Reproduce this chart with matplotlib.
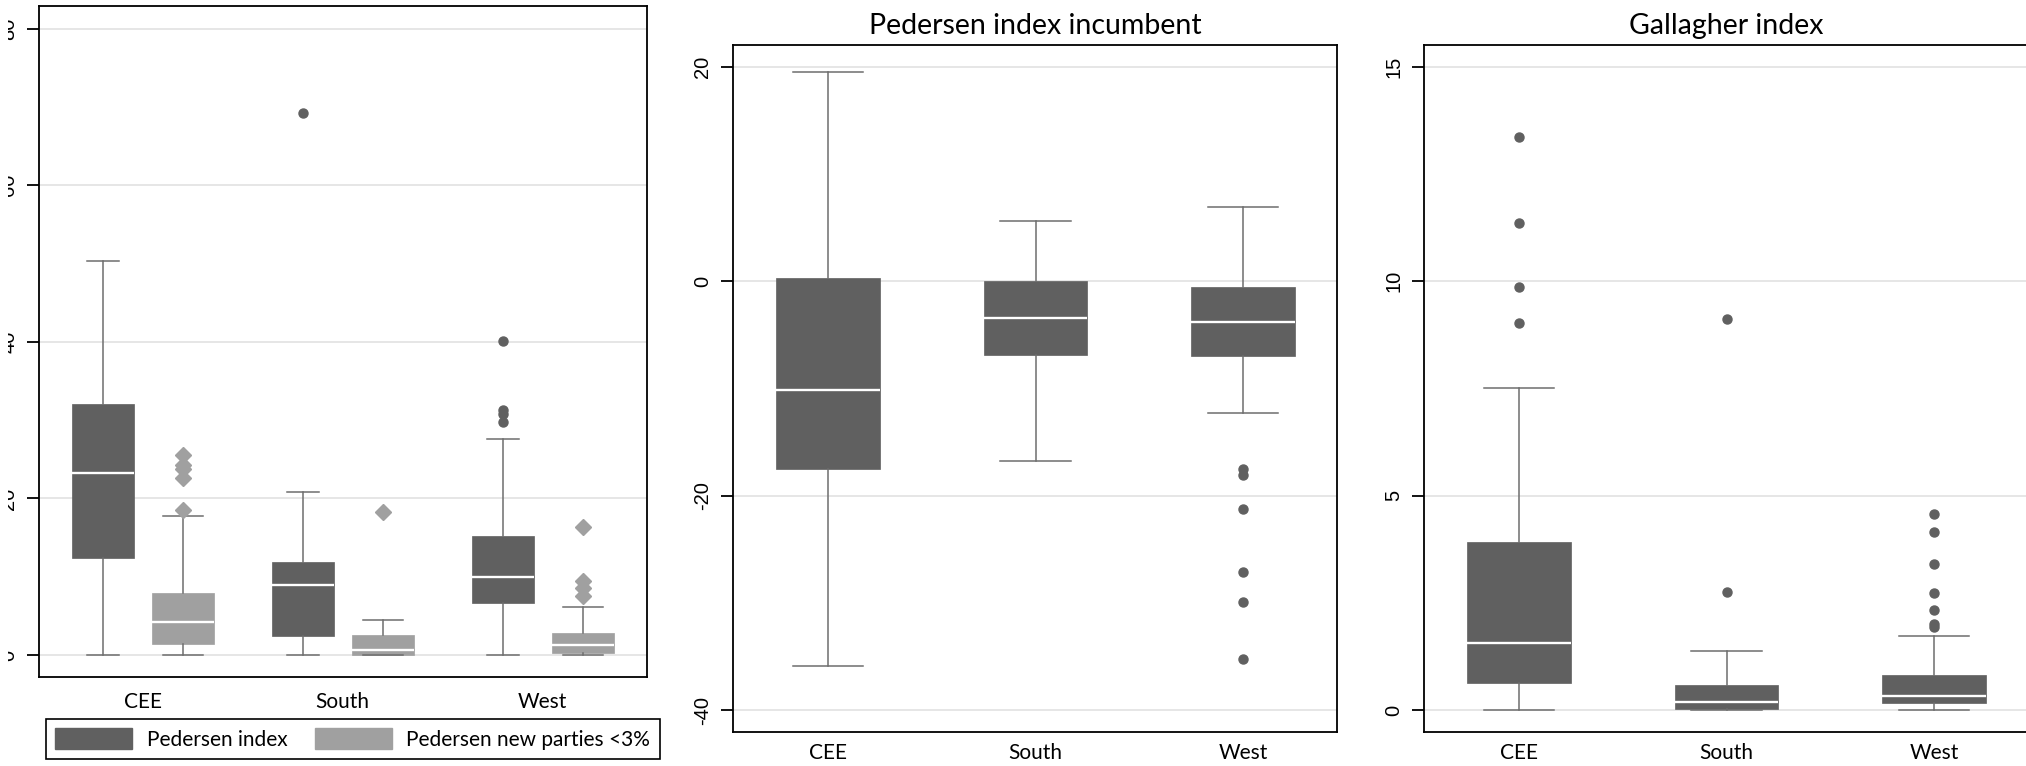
import matplotlib.pyplot as plt
from matplotlib.patches import Patch
from matplotlib.transforms import Bbox

regions = ["CEE", "South", "West"]

# left panel: Pedersen index
ped_q1 = [12.4, 2.4, 6.7]
ped_med = [23.2, 8.9, 10.0]
ped_q3 = [32.0, 11.9, 15.2]
ped_lo = [0, 0, 0]
ped_hi = [50.3, 20.8, 27.6]
ped_out = [[], [69.2], [40.1, 31.3, 30.8, 29.8]]

# left panel: Pedersen new parties <3%
new_q1 = [1.4, 0.05, 0.25]
new_med = [4.2, 0.6, 1.25]
new_q3 = [7.9, 2.5, 2.8]
new_lo = [0, 0, 0]
new_hi = [17.7, 4.5, 6.1]
new_out = [[25.5, 24.3, 23.7, 22.6, 18.5], [18.3], [16.3, 9.4, 8.6, 7.6]]

# middle panel: Pedersen index incumbent
inc_q1 = [-17.5, -6.85, -7.0]
inc_med = [-10.1, -3.4, -3.75]
inc_q3 = [0.3, 0.0, -0.5]
inc_lo = [-35.9, -16.8, -12.3]
inc_hi = [19.5, 5.65, 6.9]
inc_out = [[], [], [-17.5, -18.1, -21.2, -27.1, -29.9, -35.2]]

# right panel: Gallagher index
gal_q1 = [0.62, 0.02, 0.17]
gal_med = [1.57, 0.19, 0.32]
gal_q3 = [3.91, 0.58, 0.81]
gal_lo = [0, 0, 0]
gal_hi = [7.52, 1.37, 1.73]
gal_out = [[13.36, 11.37, 9.86, 9.03], [9.12, 2.76], [4.58, 4.15, 3.41, 2.74, 2.34, 2.0, 1.93]]

DARK = "#606060"
LIGHT = "#a0a0a0"
WHISK = "#6e6e6e"
GRID = "#e4e4e4"
TXT = "Lato"
TICKF = "Liberation Sans"

W, H = 2026, 766


def make_stats(q1, med, q3, lo, hi, out):
    return [dict(q1=a, med=b, q3=c, whislo=d, whishi=e, fliers=f)
            for a, b, c, d, e, f in zip(q1, med, q3, lo, hi, out)]


def draw_boxes(ax, stats, pos, color, width, capw, marker, msize):
    ax.bxp(stats, positions=pos, widths=width, capwidths=capw, patch_artist=True,
           boxprops=dict(facecolor=color, edgecolor=color, linewidth=0.5),
           medianprops=dict(color="white", linewidth=1.7),
           whiskerprops=dict(color=WHISK, linewidth=1.1),
           capprops=dict(color=WHISK, linewidth=1.1),
           flierprops=dict(marker=marker, markerfacecolor=color, markeredgecolor=color,
                           markersize=msize, linestyle="none"))


def style_axes(ax, ylim, yticks, xlim, label_pad):
    ax.set_ylim(*ylim)
    ax.set_xlim(*xlim)
    ax.set_yticks(yticks)
    ax.set_yticklabels([str(t) for t in yticks], rotation=90, va="center",
                       fontsize=14.5, fontfamily=TICKF)
    ax.set_xticks([1, 2, 3])
    ax.set_xticklabels(regions, fontsize=15, fontfamily=TXT)
    ax.tick_params(axis="x", length=0, pad=label_pad)
    ax.tick_params(axis="y", length=9, width=1.3, pad=6)
    ax.yaxis.grid(True, color=GRID, linewidth=1.3)
    ax.set_axisbelow(True)
    for s in ax.spines.values():
        s.set_linewidth(1.3)
        s.set_color("black")


def add_axes(x0, x1, top, bottom):
    return fig.add_axes([x0 / W, (H - bottom) / H, (x1 - x0) / W, (bottom - top) / H])


fig = plt.figure(figsize=(W / 100, H / 100), dpi=100)

# left panel
ax1 = add_axes(39, 647, 6, 677)
draw_boxes(ax1, make_stats(ped_q1, ped_med, ped_q3, ped_lo, ped_hi, ped_out),
           [0.8, 1.8, 2.8], DARK, 0.31, 0.16, "o", 6.5)
draw_boxes(ax1, make_stats(new_q1, new_med, new_q3, new_lo, new_hi, new_out),
           [1.2, 2.2, 3.2], LIGHT, 0.31, 0.2, "D", 8.5)
style_axes(ax1, (-2.81, 82.9), [0, 20, 40, 60, 80], (0.48, 3.5225), 11)
# y labels of the left panel are cut off in the source image
for lbl in ax1.get_yticklabels():
    lbl.set_clip_box(Bbox([[8, 0], [W, H]]))
    lbl.set_clip_on(True)

ax1.legend(handles=[Patch(facecolor=DARK, edgecolor=DARK), Patch(facecolor=LIGHT, edgecolor=LIGHT)],
           labels=["Pedersen index", "Pedersen new parties <3%"],
           loc="upper left", bbox_to_anchor=(46 / W, (H - 719) / H), bbox_transform=fig.transFigure,
           ncol=2, frameon=True, fancybox=False, edgecolor="black", framealpha=1,
           prop=dict(family=TXT, size=15), handlelength=3.7, handleheight=1.15,
           handletextpad=0.7, columnspacing=1.3, borderpad=0.45, borderaxespad=0)
ax1.get_legend().get_frame().set_linewidth(1.2)

# middle panel
ax2 = add_axes(733, 1337, 45, 732)
draw_boxes(ax2, make_stats(inc_q1, inc_med, inc_q3, inc_lo, inc_hi, inc_out),
           [1, 2, 3], DARK, 0.5, 0.34, "o", 6.5)
style_axes(ax2, (-42.05, 22.05), [-40, -20, 0, 20], (0.542, 3.453), 8)
ax2.set_title("Pedersen index incumbent", fontsize=20.5, fontfamily=TXT, pad=8)

# right panel
ax3 = add_axes(1424, 2028, 45, 732)
draw_boxes(ax3, make_stats(gal_q1, gal_med, gal_q3, gal_lo, gal_hi, gal_out),
           [1, 2, 3], DARK, 0.5, 0.34, "o", 6.5)
style_axes(ax3, (-0.513, 15.51), [0, 5, 10, 15], (0.542, 3.453), 8)
ax3.set_title("Gallagher index", fontsize=20.5, fontfamily=TXT, pad=8)

fig.savefig("out.png", dpi=100)
